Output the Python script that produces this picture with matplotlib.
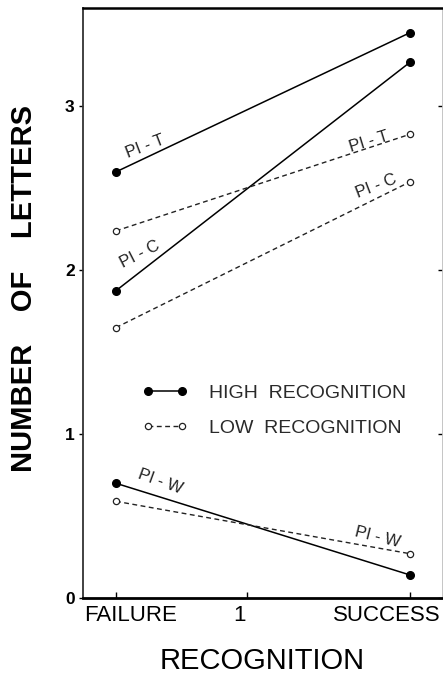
import matplotlib
matplotlib.use("Agg")
import matplotlib.pyplot as plt
from matplotlib.lines import Line2D

plt.rcParams['font.family'] = ['Liberation Sans', 'DejaVu Sans']

# Data ---------------------------------------------------------
x_pos = [0, 1]                      # failure, success
high_pi_t = [2.60, 3.45]
high_pi_c = [1.875, 3.27]
high_pi_w = [0.70, 0.14]
low_pi_t = [2.24, 2.83]
low_pi_c = [1.65, 2.54]
low_pi_w = [0.59, 0.27]

tick_pos = [0, 0.447, 1]
label_pos = [0.05, 0.42, 0.92]
tick_labels = ["FAILURE", "1", "SUCCESS"]
y_ticks = [0, 1, 2, 3]

# Plot ---------------------------------------------------------
fig = plt.figure(figsize=(4.43, 6.77), dpi=100)
ax = fig.add_axes([83/443, 79/677, 359/443, 590/677])

hi = dict(color='black', lw=1.1, ls='-', marker='o', ms=5.5, mfc='black', mec='black')
lo = dict(color='#222222', lw=1.0, ls=(0, (3.5, 2.5)), marker='o', ms=4.5,
          mfc='white', mec='#222222', mew=0.9)

for s in [high_pi_t, high_pi_c, high_pi_w]:
    ax.plot(x_pos, s, **hi)
for s in [low_pi_t, low_pi_c, low_pi_w]:
    ax.plot(x_pos, s, **lo)

# curve labels
lab = dict(fontsize=12, color='#222222', ha='center', va='center')
ax.text(0.098, 2.755, "PI - T", rotation=21, **lab)
ax.text(0.081, 2.095, "PI - C", rotation=27, **lab)
ax.text(0.861, 2.786, "PI - T", rotation=17, **lab)
ax.text(0.885, 2.51, "PI - C", rotation=21, **lab)
ax.text(0.149, 0.709, "PI - W", rotation=-20, **lab)
ax.text(0.888, 0.373, "PI - W", rotation=-14, **lab)

handles = [Line2D([], [], **hi), Line2D([], [], **lo)]
ax.legend(handles, ["HIGH  RECOGNITION", "LOW  RECOGNITION"], numpoints=2,
          frameon=False, loc='center left', bbox_to_anchor=(0.164, 0.318),
          borderaxespad=0, borderpad=0, handlelength=2.35, handletextpad=1.1,
          labelspacing=0.9, prop={'size': 14}, labelcolor='#2a2a2a')

ax.set_xlim(-0.112, 1.108)
ax.set_ylim(0, 3.6)

ax.set_xticks(tick_pos)
ax.set_xticklabels([])
ax.set_xticks(label_pos, minor=True)
ax.set_xticklabels(tick_labels, minor=True, fontsize=16)
ax.tick_params(axis='x', which='major', direction='in', length=4, width=1)
ax.tick_params(axis='x', which='minor', length=0, pad=5)

ax.set_yticks(y_ticks)
ax.set_yticklabels([str(v) for v in y_ticks], fontsize=12.5, fontweight='bold')
ax.tick_params(axis='y', direction='out', length=3, pad=3, width=1,
               right=True)
ax.tick_params(axis='y', which='major', labelright=False)
for t in ax.yaxis.get_ticklines()[1::2]:
    t.set_marker(0)  # right ticks pointing inward

ax.spines['left'].set_linewidth(1.3)
ax.spines['left'].set_color('#333333')
ax.spines['top'].set_linewidth(1.8)
ax.spines['bottom'].set_linewidth(2.0)
ax.spines['right'].set_linewidth(0.6)
ax.spines['right'].set_color('#bbbbbb')

ax.set_xlabel("RECOGNITION", fontsize=21, labelpad=15)
ax.set_ylabel("NUMBER    OF    LETTERS", fontsize=21, fontweight='bold',
              va='center')
ax.yaxis.set_label_coords(-0.165, 0.525)

fig.savefig("out.png", dpi=100)
